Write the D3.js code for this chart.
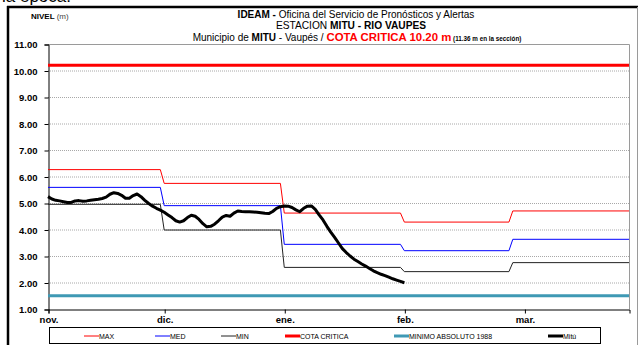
<!DOCTYPE html>
<html>
<head>
<meta charset="utf-8">
<script src="https://cdn.jsdelivr.net/npm/d3@7"></script>
<style>
  html, body { margin: 0; padding: 0; background: #fff; }
  svg { display: block; font-family: "Liberation Sans", Arial, sans-serif; }
</style>
</head>
<body>
<svg id="chart" width="639" height="345"></svg>
<script>
// Río Vaupés en Mitú: niveles diarios frente a los valores históricos mensuales.
const MONTH_LABELS = ["nov.", "dic.", "ene.", "feb.", "mar."];
const TICK_DATES = ["2013-11-01", "2013-12-01", "2014-01-01", "2014-02-01", "2014-03-04"];
const MONTH_STARTS = ["2013-11-01", "2013-12-01", "2014-01-01", "2014-02-01", "2014-03-01"];
const DOMAIN_DATES = ["2013-11-01", "2014-03-31"];
const Y_TICKS = [1, 2, 3, 4, 5, 6, 7, 8, 9, 10, 11];

// Valores históricos por mes (m)
const MAX_VALUES = [6.26, 5.74, 4.62, 4.28, 4.70];
const MED_VALUES = [5.59, 4.90, 3.44, 3.20, 3.63];
const MIN_VALUES = [4.95, 3.98, 2.57, 2.41, 2.75];
const COTA_CRITICA = 10.20;
const MINIMO_ABSOLUTO = 1.50;

// Nivel diario observado en Mitú desde el 1 de noviembre (m)
const MITU_START = "2013-11-01";
const MITU_VALUES = [
  5.24, 5.15, 5.10, 5.08, 5.05, 5.02, 5.02, 5.08, 5.09, 5.07,
  5.08, 5.10, 5.12, 5.14, 5.17, 5.22, 5.33, 5.39, 5.36, 5.29,
  5.18, 5.18, 5.28, 5.34, 5.24, 5.10, 4.98, 4.88, 4.80, 4.73,
  4.65, 4.55, 4.45, 4.33, 4.28, 4.33, 4.45, 4.54, 4.50, 4.38,
  4.22, 4.10, 4.12, 4.20, 4.33, 4.47, 4.53, 4.50, 4.62, 4.70,
  4.68, 4.67, 4.67, 4.66, 4.65, 4.63, 4.61, 4.60, 4.68, 4.80,
  4.86, 4.89, 4.88, 4.83, 4.74, 4.67, 4.80, 4.88, 4.89, 4.76,
  4.55, 4.36, 4.12, 3.90, 3.70, 3.49, 3.28, 3.13, 3.00, 2.88,
  2.79, 2.70, 2.62, 2.53, 2.44, 2.37, 2.31, 2.26, 2.20, 2.14,
  2.09, 2.04, 1.99
];

const LEGEND_ITEMS = [
  { label: "MAX", color: "#ff0000", width: 1 },
  { label: "MED", color: "#0000ff", width: 1 },
  { label: "MIN", color: "#222222", width: 1 },
  { label: "COTA CRITICA", color: "#ff0000", width: 3 },
  { label: "MINIMO ABSOLUTO 1988", color: "#3f99b4", width: 3 },
  { label: "Mitú", color: "#000000", width: 3 }
];

const parse = d3.utcParse("%Y-%m-%d");
const svg = d3.select("#chart");

const plot = { left: 48, right: 629, top: 44, bottom: 309 };

const x = d3.scaleUtc()
  .domain(DOMAIN_DATES.map(parse))
  .range([plot.left, plot.right]);
const y = d3.scaleLinear()
  .domain([1, 11])
  .range([plot.bottom, plot.top]);

// Marco exterior
svg.append("text")
  .attr("x", 2).attr("y", 2)
  .attr("font-size", 17).attr("fill", "#000")
  .text("la época.");
svg.append("line").attr("x1", 7).attr("x2", 638).attr("y1", 7).attr("y2", 7)
  .attr("stroke", "#000").attr("stroke-width", 2.5);
svg.append("line").attr("x1", 8).attr("x2", 8).attr("y1", 6).attr("y2", 345)
  .attr("stroke", "#000").attr("stroke-width", 2.5);
svg.append("line").attr("x1", 637.5).attr("x2", 637.5).attr("y1", 7).attr("y2", 345)
  .attr("stroke", "#9a9a9a").attr("stroke-width", 1);

// Títulos
const title = svg.append("g").attr("fill", "#000");
const t1 = title.append("text").attr("x", 356).attr("y", 18)
  .attr("text-anchor", "middle").attr("font-size", 10);
t1.append("tspan").attr("font-weight", "bold").text("IDEAM - ");
t1.append("tspan").text("Oficina del Servicio de Pronósticos y Alertas");

const t2 = title.append("text").attr("x", 351).attr("y", 28.5)
  .attr("text-anchor", "middle").attr("font-size", 10.2);
t2.append("tspan").text("ESTACION ");
t2.append("tspan").attr("font-weight", "bold").text("MITU - RIO VAUPES");

const t3 = title.append("text").attr("x", 357).attr("y", 40.5)
  .attr("text-anchor", "middle").attr("font-size", 10);
t3.append("tspan").text("Municipio de ");
t3.append("tspan").attr("font-weight", "bold").text("MITU");
t3.append("tspan").text(" - Vaupés / ");
t3.append("tspan").attr("font-weight", "bold").attr("fill", "#ff0000")
  .attr("font-size", 11.4).text("COTA CRITICA 10.20 m");
t3.append("tspan").attr("font-weight", "bold").attr("font-size", 6.3)
  .text("  (11.36 m  en la sección)");

const yLabel = svg.append("text").attr("x", 31).attr("y", 19).attr("font-size", 8);
yLabel.append("tspan").attr("font-weight", "bold").text("NIVEL ");
yLabel.append("tspan").attr("fill", "#444").text("(m)");

// Cuadrícula
svg.append("g")
  .selectAll("line")
  .data(Y_TICKS.filter(v => v > 1 && v < 11))
  .join("line")
  .attr("x1", plot.left).attr("x2", plot.right)
  .attr("y1", d => y(d) + 0.5).attr("y2", d => y(d) + 0.5)
  .attr("stroke", "#a8a8a8").attr("stroke-width", 1)
  .attr("stroke-dasharray", "1,1");

// Borde del área de trazado
svg.append("path")
  .attr("d", `M${plot.left},${plot.top + 0.5}H${plot.right + 0.5}V${plot.bottom}`)
  .attr("fill", "none").attr("stroke", "#9a9a9a").attr("stroke-width", 1);

// Ejes
const yAxis = svg.append("g")
  .attr("transform", `translate(${plot.left + 0.5},0.5)`)
  .call(d3.axisLeft(y).tickValues(Y_TICKS).tickFormat(d3.format(".2f"))
    .tickSize(4).tickPadding(7));
const xAxis = svg.append("g")
  .attr("transform", `translate(0.5,${plot.bottom + 0.5})`)
  .call(d3.axisBottom(x).tickValues(TICK_DATES.map(parse))
    .tickFormat((d, i) => MONTH_LABELS[i]).tickSize(4).tickPadding(3));
[yAxis, xAxis].forEach(g => {
  g.select(".domain").attr("stroke", "#000");
  g.selectAll(".tick line").attr("stroke", "#000");
  g.selectAll(".tick text")
    .attr("font-family", "Liberation Sans, Arial, sans-serif")
    .attr("font-weight", "bold").attr("fill", "#000");
});
yAxis.selectAll(".tick text").attr("font-size", 9.5);
xAxis.selectAll(".tick text").attr("font-size", 9.5);

// Series escalonadas mensuales
function stepPoints(values) {
  const pts = [];
  values.forEach((v, i) => {
    const start = parse(MONTH_STARTS[i]);
    const end = i < values.length - 1
      ? d3.utcDay.offset(parse(MONTH_STARTS[i + 1]), -1)
      : parse(DOMAIN_DATES[1]);
    pts.push({ date: start, value: v }, { date: end, value: v });
  });
  return pts;
}
const line = d3.line().x(d => x(d.date)).y(d => y(d.value));

const lines = svg.append("g").attr("fill", "none");
lines.append("path").datum(stepPoints(MIN_VALUES))
  .attr("d", line).attr("stroke", "#222").attr("stroke-width", 1);
lines.append("path").datum(stepPoints(MED_VALUES))
  .attr("d", line).attr("stroke", "#0000ff").attr("stroke-width", 1);
lines.append("path").datum(stepPoints(MAX_VALUES))
  .attr("d", line).attr("stroke", "#ff0000").attr("stroke-width", 1);

// Cota crítica y mínimo absoluto
const hLine = v => [{ date: parse(DOMAIN_DATES[0]), value: v }, { date: parse(DOMAIN_DATES[1]), value: v }];
lines.append("path").datum(hLine(COTA_CRITICA))
  .attr("d", line).attr("stroke", "#ff0000").attr("stroke-width", 3);
lines.append("path").datum(hLine(MINIMO_ABSOLUTO))
  .attr("d", line).attr("stroke", "#3f99b4").attr("stroke-width", 3);

// Nivel observado
const mituStart = parse(MITU_START);
const mitu = MITU_VALUES.map((v, i) => ({ date: d3.utcDay.offset(mituStart, i), value: v }));
lines.append("path").datum(mitu)
  .attr("d", line).attr("stroke", "#000").attr("stroke-width", 3)
  .attr("stroke-linejoin", "round");

// Leyenda
const legend = svg.append("g");
legend.append("rect")
  .attr("x", 49.5).attr("y", 327.5).attr("width", 551).attr("height", 16)
  .attr("fill", "#fff").attr("stroke", "#000").attr("stroke-width", 1);
const legendX = [84, 155, 221, 285, 394, 548];
const items = legend.selectAll("g.item")
  .data(LEGEND_ITEMS)
  .join("g").attr("class", "item")
  .attr("transform", (d, i) => `translate(${legendX[i]},336)`);
items.append("line")
  .attr("x1", 0).attr("x2", 15).attr("y1", 0).attr("y2", 0)
  .attr("stroke", d => d.color).attr("stroke-width", d => d.width);
items.append("text")
  .attr("x", 15).attr("y", 2.5)
  .attr("font-size", 7).attr("fill", "#000")
  .text(d => d.label);
</script>
</body>
</html>
